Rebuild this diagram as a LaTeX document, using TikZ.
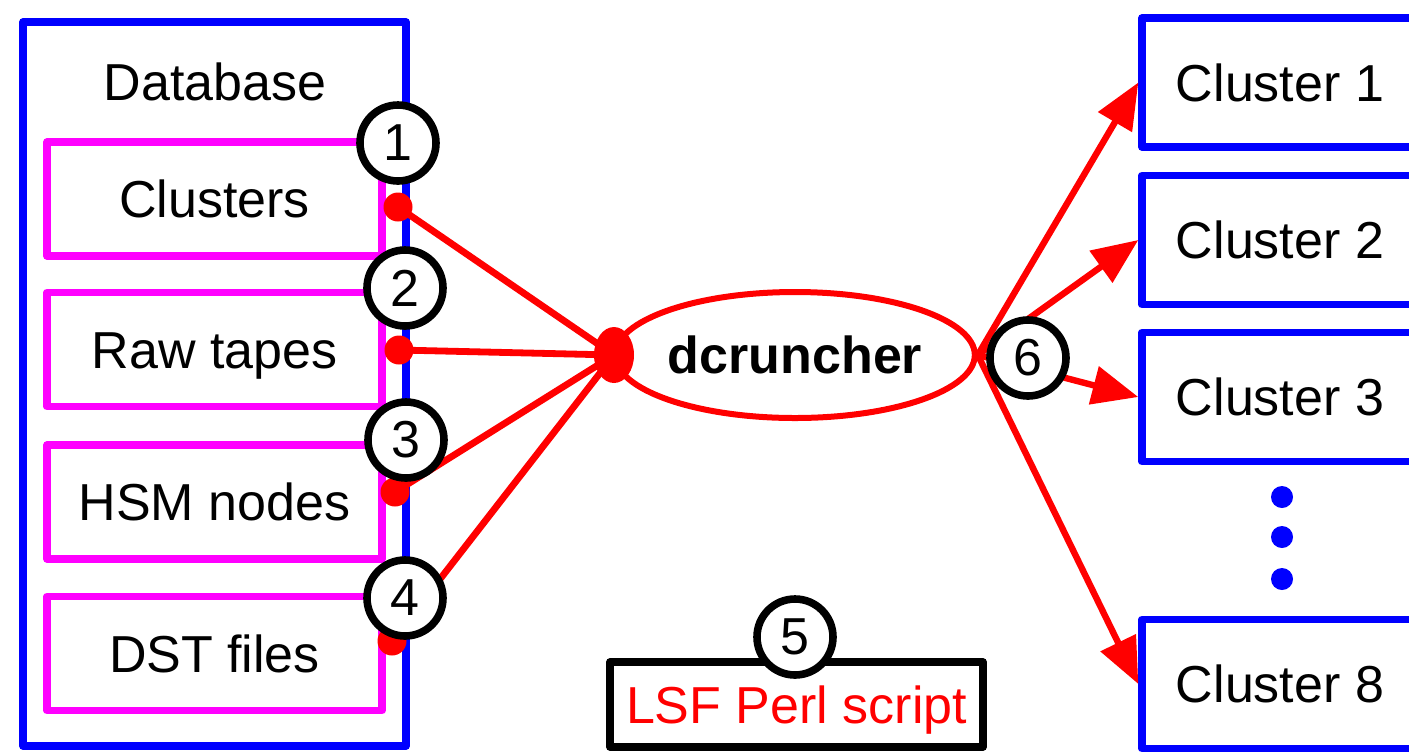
\documentclass[tikz,border=0pt]{standalone}
\usepackage{fontspec}
\setmainfont{Liberation Sans}
\usetikzlibrary{arrows.meta,shapes.geometric}

\definecolor{pureblue}{RGB}{0,0,255}
\definecolor{purered}{RGB}{255,0,0}
\definecolor{puremagenta}{RGB}{255,0,255}

\tikzset{
  txt/.style={inner sep=0pt, text height=18.6pt, text depth=0pt},
  dbbox/.style={draw=pureblue, line width=3.7pt, line join=round, minimum width=191.5pt, minimum height=362pt, inner sep=0pt},
  store/.style={txt, draw=puremagenta, line width=3.7pt, line join=round, minimum width=167.5pt, minimum height=57pt},
  clbox/.style={draw=pureblue, line width=3.7pt, line join=round, minimum width=149pt, minimum height=64.5pt, inner sep=0pt},
  num/.style={circle, draw=black, fill=white, line width=3.8pt, minimum size=38pt, inner sep=0pt},
  plug/.style={circle, fill=purered, minimum size=14.5pt, inner sep=0pt},
  link/.style={draw=purered, line width=3.4pt},
  feed/.style={draw=purered, line width=3.2pt, -{Triangle[length=23pt,width=19pt]}},
}

\begin{document}
\begin{tikzpicture}[x=0.5pt, y=-0.5pt, font=\fontsize{26}{30}\selectfont]
\useasboundingbox (0,0) rectangle (1409,752);
\clip (0,0) rectangle (1409,752);

% database with its four stores
\node[dbbox] (db) at (214.5,384) {};
\node[txt] (dbt) at (215,82) {Database};
\node[store] (s1) at (214.5,199) {Clusters};
\node[store] (s2) at (214.5,349.5) {Raw tapes};
\node[store] (s3) at (214.5,502) {HSM nodes};
\node[store] (s4) at (214.5,653.5) {DST files};

% dcruncher and its input hub
\node[ellipse, draw=purered, line width=3pt, minimum width=173pt, minimum height=63pt, inner sep=0pt] (dc) at (795,355) {\bfseries dcruncher};
\node[ellipse, fill=purered, minimum width=20pt, minimum height=28pt, inner sep=0pt] (hub) at (614,355) {};

% plugs on the database edge
\node[plug] (p1) at (398,207) {};
\node[plug] (p2) at (399,350) {};
\node[plug] (p3) at (395,492) {};
\node[plug] (p4) at (392,641) {};

\draw[link] (p1.center) -- (hub.center);
\draw[link] (p2.center) -- (hub.center);
\draw[link] (p3.center) -- (hub.center);
\draw[link] (p4.center) -- (hub.center);

% clusters
\node[clbox] (c1) at (1291,82.5) {};
\node[clbox] (c2) at (1291,240) {};
\node[clbox] (c3) at (1291,397) {};
\node[clbox] (c8) at (1291,684) {};
\node[txt] (c1t) at (1280,83) {Cluster 1};
\node[txt] (c2t) at (1280,240) {Cluster 2};
\node[txt] (c3t) at (1280,397) {Cluster 3};
\node[txt] (c8t) at (1280,684) {Cluster 8};
\fill[pureblue] (1282,497) circle (5.5pt) (1282,537) circle (5.5pt) (1282,579) circle (5.5pt);

\draw[feed] (dc.east) -- (c1.west);
\draw[feed] (dc.east) -- (c2.west);
\draw[feed] (dc.east) -- (c3.west);
\draw[feed] (dc.east) -- (c8.west);

% LSF submission script
\node[txt, draw=black, line width=3.7pt, line join=round, minimum width=186.5pt, minimum height=42.5pt, text=purered] (lsf) at (796.5,704.5) {LSF Perl script};

% step numbers
\node[num] (n1) at (398,143) {1};
\node[num] (n2) at (405,288) {2};
\node[num] (n3) at (406,440) {3};
\node[num] (n4) at (405,598) {4};
\node[num] (n5) at (795,637) {5};
\node[num] (n6) at (1028,358) {6};
\end{tikzpicture}
\end{document}
